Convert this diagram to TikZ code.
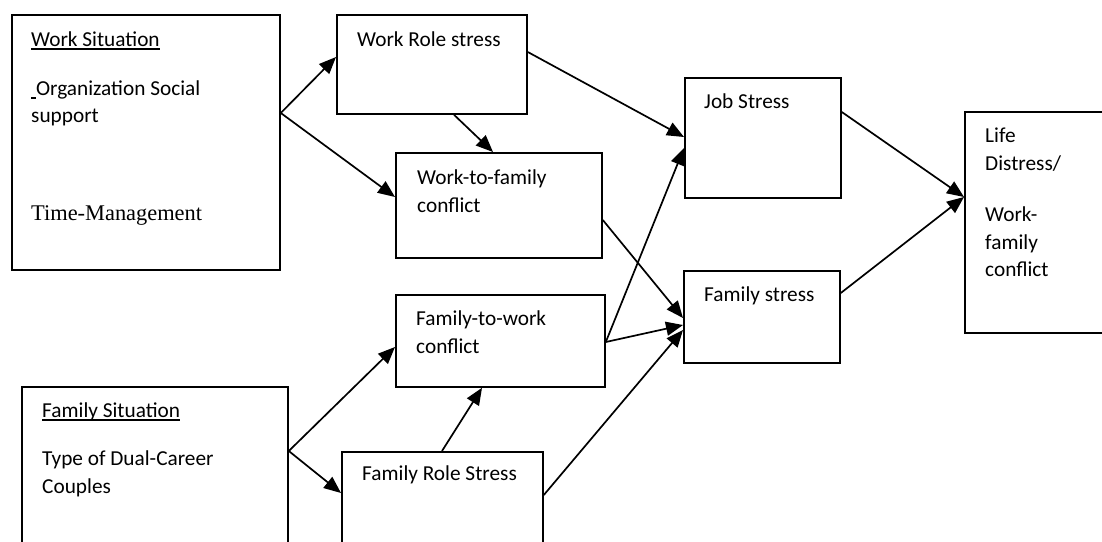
\documentclass[tikz,border=0pt]{standalone}
\usepackage{fontspec}
\setmainfont{Carlito}
\newfontfamily\serifcam{Liberation Serif}
\usetikzlibrary{arrows.meta}
\newcommand\myul[1]{\setbox0\hbox{#1}\rlap{\rule[-3.6pt]{\wd0}{1.4pt}}\box0}
\tikzset{
  box/.style={draw, line width=1.8pt, anchor=north west, inner sep=0pt},
  txt/.style={anchor=base west, inner sep=0pt, font=\fontsize{21.3}{28}\selectfont},
  sertxt/.style={anchor=base west, inner sep=0pt, font=\serifcam\fontsize{22.4}{28}\selectfont},
  conn/.style={line width=1.7pt, -{Triangle[length=17pt,width=14pt]}}
}
\begin{document}
\begin{tikzpicture}[x=1pt,y=-1pt]
\useasboundingbox (0,0) rectangle (1102,541);
\clip (0,0) rectangle (1102,541);
% boxes
\node[box, minimum width=268pt, minimum height=255pt] (ws) at (11,14) {};
\node[box, minimum width=190pt, minimum height=99pt] (wr) at (336,14) {};
\node[box, minimum width=206pt, minimum height=105pt] (wtf) at (395,152) {};
\node[box, minimum width=156pt, minimum height=120pt] (js) at (684,77) {};
\node[box, minimum width=156pt, minimum height=92pt] (fs) at (683,270) {};
\node[box, minimum width=170pt, minimum height=221pt] (life) at (964,111) {};
\node[box, minimum width=209pt, minimum height=92pt] (ftw) at (395,294) {};
\node[box, minimum width=266pt, minimum height=190pt] (fsit) at (21,386) {};
\node[box, minimum width=201pt, minimum height=120pt] (frs) at (341,451) {};
% texts
\node[txt] (ws1) at (31,46) {\myul{Work Situation}};
\node[txt] (ws2) at (31,95) {\myul{\ }Organization Social};
\node[txt] (ws3) at (31,122) {support};
\node[sertxt] (ws4) at (31,220) {Time-Management};
\node[txt] (wr1) at (357,46) {Work Role stress};
\node[txt] (wtf1) at (417,184) {Work-to-family};
\node[txt] (wtf2) at (417,212) {conflict};
\node[txt] (js1) at (704,108) {Job Stress};
\node[txt] (fs1) at (704,301) {Family stress};
\node[txt] (l1) at (985,142) {Life};
\node[txt] (l2) at (985,170) {Distress/};
\node[txt] (l3) at (985,221) {Work-};
\node[txt] (l4) at (985,249) {family};
\node[txt] (l5) at (985,276) {conflict};
\node[txt] (ftw1) at (416,325) {Family-to-work};
\node[txt] (ftw2) at (416,353) {conflict};
\node[txt] (fsit1) at (42,417) {\myul{Family Situation}};
\node[txt] (fsit2) at (42,465) {Type of Dual-Career};
\node[txt] (fsit3) at (42,493) {Couples};
\node[txt] (frs1) at (362,480) {Family Role Stress};
% connectors
\draw[conn] ([yshift=-99pt]ws.north east) -- ([yshift=-43pt]wr.north west);
\draw[conn] ([yshift=-99pt]ws.north east) -- ([yshift=-45pt]wtf.north west);
\draw[conn] ([xshift=118pt]wr.south west) -- ([xshift=98pt]wtf.north west);
\draw[conn] ([yshift=-38pt]wr.north east) -- ([yshift=-60pt]js.north west);
\draw[conn] ([yshift=-68pt]wtf.north east) -- ([yshift=-48pt]fs.north west);
\draw[conn] ([yshift=-48pt]ftw.north east) -- ([yshift=-71pt]js.north west);
\draw[conn] ([yshift=-48pt]ftw.north east) -- ([yshift=-55pt]fs.north west);
\draw[conn] ([yshift=-44pt]frs.north east) -- ([yshift=-60pt]fs.north west);
\draw[conn] ([yshift=-65pt]fsit.north east) -- ([yshift=-53pt]ftw.north west);
\draw[conn] ([yshift=-65pt]fsit.north east) -- ([yshift=-42pt]frs.north west);
\draw[conn] ([xshift=101pt]frs.north west) -- ([xshift=87pt]ftw.south west);
\draw[conn] ([yshift=-35pt]js.north east) -- ([yshift=-86pt]life.north west);
\draw[conn] ([yshift=-23pt]fs.north east) -- ([yshift=-86pt]life.north west);
\end{tikzpicture}
\end{document}
